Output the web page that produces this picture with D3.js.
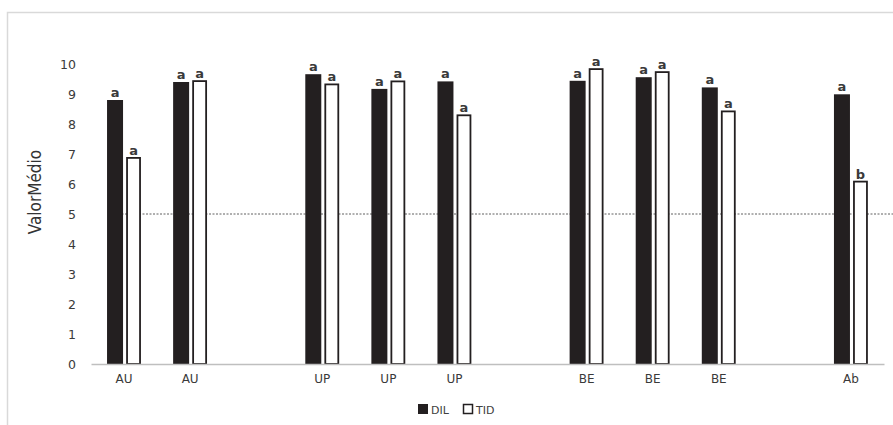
<!DOCTYPE html>
<html><head><meta charset="utf-8">
<script src="https://cdn.jsdelivr.net/npm/d3@7"></script>
<style>body{margin:0;background:#fff;}svg{display:block;}</style>
</head><body>
<svg id="c" width="893" height="425"></svg>
<script>
const categories = ["AU","AU","","UP","UP","UP","","BE","BE","BE","","Ab"];
const dil = [8.8, 9.4, null, 9.66, 9.17, 9.42, null, 9.44, 9.56, 9.22, null, 8.99];
const tid = [6.87, 9.43, null, 9.32, 9.42, 8.29, null, 9.83, 9.73, 8.42, null, 6.08];
const dilLetters = ["a","a","","a","a","a","","a","a","a","","a"];
const tidLetters = ["a","a","","a","a","a","","a","a","a","","b"];
const yTicks = [0,1,2,3,4,5,6,7,8,9,10];
const refValue = 5;
const seriesNames = ["DIL","TID"];

const svg = d3.select("#c");
svg.append("rect").attr("x",7.5).attr("y",12.5).attr("width",900).attr("height",430)
  .attr("fill","none").attr("stroke","#d9d9d9").attr("stroke-width",1.5);

const x = d3.scaleBand().domain(d3.range(categories.length)).range([91,884]).paddingInner(0).paddingOuter(0);
const y = d3.scaleLinear().domain([0,10]).range([364,64]);

const lf = "DejaVu Sans, Verdana, sans-serif";
// y tick labels
const yAxis = d3.axisLeft(y).tickValues(yTicks).tickSize(0).tickPadding(0);
const ya = svg.append("g").attr("transform","translate(76,0)").call(yAxis);
ya.select(".domain").remove();
ya.selectAll("text").attr("font-family",lf).attr("font-size",12.5).attr("fill","#3a3a3a");

// reference line
svg.append("line").attr("x1",118).attr("x2",893).attr("y1",y(refValue)).attr("y2",y(refValue))
  .attr("stroke","#606060").attr("stroke-width",1).attr("stroke-dasharray","2,1.5");

const bw = 15;
const idx = d3.range(categories.length).filter(i => dil[i] != null);
// DIL bars
svg.selectAll("rect.dil").data(idx).join("rect").attr("class","dil")
  .attr("x", i => x(i) + x.bandwidth()/2 - 17)
  .attr("width", bw+1)
  .attr("y", i => y(dil[i]))
  .attr("height", i => y(0) - y(dil[i]))
  .attr("fill","#231f20");
// TID bars
svg.selectAll("rect.tid").data(idx).join("rect").attr("class","tid")
  .attr("x", i => x(i) + x.bandwidth()/2 + 3)
  .attr("width", bw-2)
  .attr("y", i => y(tid[i]))
  .attr("height", i => y(0) - y(tid[i]))
  .attr("fill","#fff").attr("stroke","#231f20").attr("stroke-width",1.8);

// letters
svg.selectAll("text.ld").data(idx).join("text").attr("class","ld")
  .attr("x", i => x(i) + x.bandwidth()/2 - 9).attr("y", i => y(dil[i]) - 3)
  .attr("text-anchor","middle").attr("font-family",lf).attr("font-size",13).attr("font-weight","bold")
  .attr("fill","#3a3a3a").text(i => dilLetters[i]);
svg.selectAll("text.lt").data(idx).join("text").attr("class","lt")
  .attr("x", i => x(i) + x.bandwidth()/2 + 9.5).attr("y", i => y(tid[i]) - 3)
  .attr("text-anchor","middle").attr("font-family",lf).attr("font-size",13).attr("font-weight","bold")
  .attr("fill","#3a3a3a").text(i => tidLetters[i]);

// x axis
const xAxis = d3.axisBottom(x).tickSize(0).tickPadding(0).tickFormat(i => categories[i]);
const xa = svg.append("g").attr("transform",`translate(0,${y(0)})`).call(xAxis);
xa.select(".domain").attr("stroke","#bfbfbf").attr("stroke-width",1.5);
xa.selectAll("text").attr("dy","1.55em").attr("font-family",lf).attr("font-size",12).attr("fill","#3a3a3a");

// y title
svg.append("text").attr("transform","translate(41,192) rotate(-90)").attr("text-anchor","middle")
  .attr("font-family","Liberation Sans Narrow, DejaVu Sans Condensed, Arial Narrow, sans-serif")
  .attr("font-size",17).attr("fill","#333").text("ValorMédio");

// legend
const lg = svg.append("g").attr("transform","translate(418,404)");
lg.append("rect").attr("x",0).attr("y",0).attr("width",10).attr("height",10).attr("fill","#231f20");
lg.append("text").attr("x",13).attr("y",9.5).attr("font-family",lf).attr("font-size",11).attr("fill","#404040").text(seriesNames[0]);
lg.append("rect").attr("x",45.5).attr("y",0.5).attr("width",9).attr("height",9).attr("fill","#fff").attr("stroke","#231f20").attr("stroke-width",1.5);
lg.append("text").attr("x",58).attr("y",9.5).attr("font-family",lf).attr("font-size",11).attr("fill","#404040").text(seriesNames[1]);
</script>
</body></html>
